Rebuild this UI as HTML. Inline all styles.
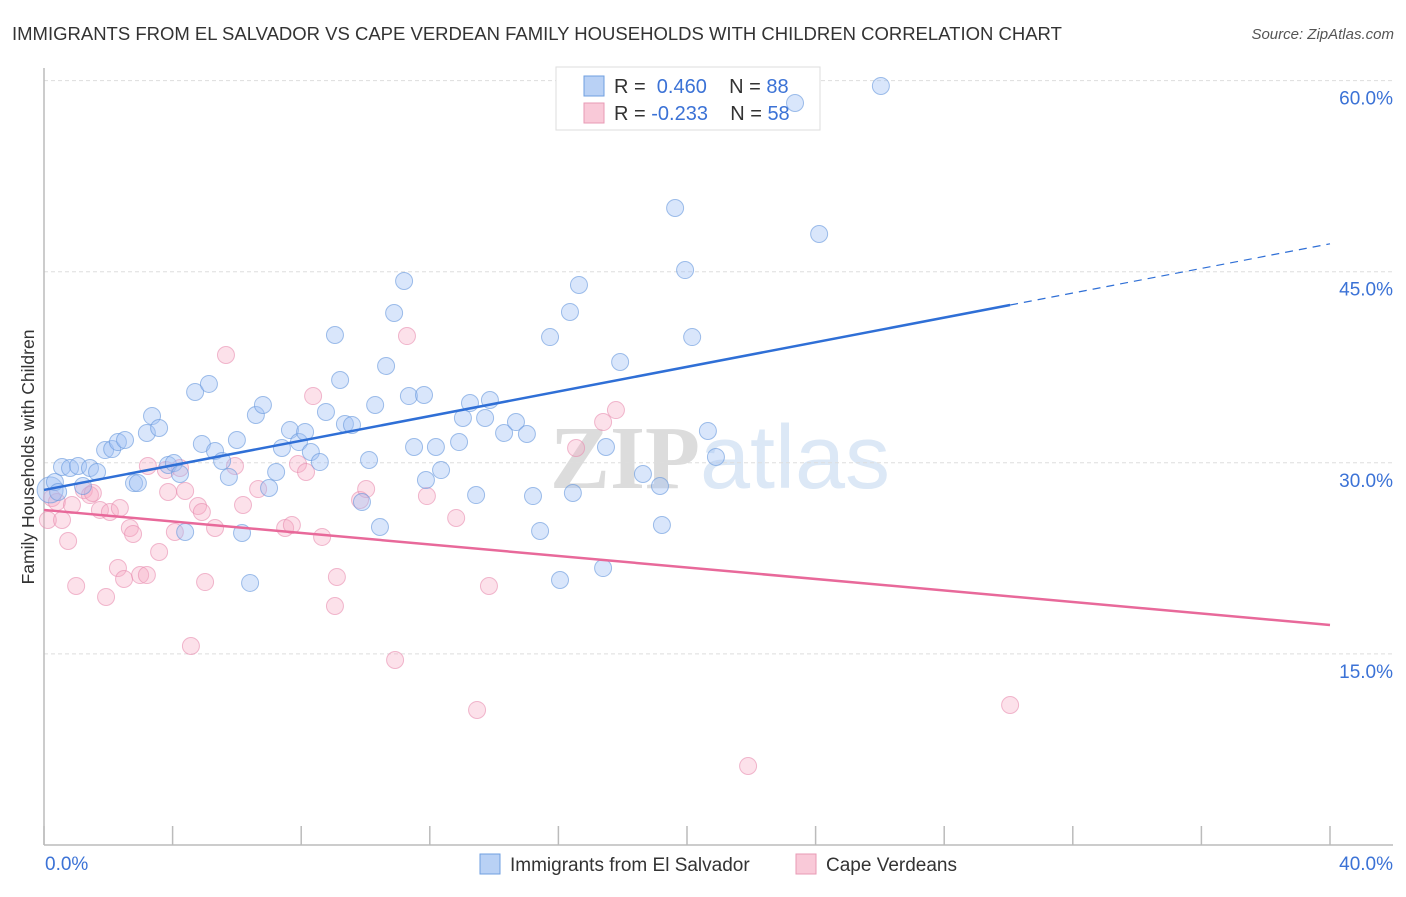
<!DOCTYPE html>
<html><head><meta charset="utf-8"><style>
body{margin:0;background:#fff;font-family:"Liberation Sans",sans-serif;}
svg text{font-family:"Liberation Sans",sans-serif;}
</style></head><body>
<svg width="1406" height="892" xmlns="http://www.w3.org/2000/svg">
<text x="12" y="40" font-size="18.5" fill="#333">IMMIGRANTS FROM EL SALVADOR VS CAPE VERDEAN FAMILY HOUSEHOLDS WITH CHILDREN CORRELATION CHART</text>
<text x="1394" y="39" font-size="15" fill="#555" text-anchor="end" font-style="italic">Source: ZipAtlas.com</text>
<text x="720" y="488" font-size="90" fill="#e3e3e3" text-anchor="middle" font-weight="bold"><tspan fill="#dcdcdc" font-family="Liberation Serif">ZIP</tspan><tspan fill="#dce8f6" font-weight="normal">atlas</tspan></text>
<g id="grid"></g>
<g id="axes"></g>
<g>
<rect x="556" y="67" width="264" height="63" fill="#fff" stroke="#ddd"/>
<rect x="584" y="76" width="20" height="20" fill="#b9d1f5" stroke="#6f9fe0"/>
<rect x="584" y="103" width="20" height="20" fill="#f9c9d8" stroke="#e89ab5"/>
<text x="614" y="93" font-size="20" fill="#333">R = <tspan fill="#3b72d6">&#160;0.460</tspan>&#160;&#160;&#160;&#160;N = <tspan fill="#3b72d6">88</tspan></text>
<text x="614" y="120" font-size="20" fill="#333">R = <tspan fill="#3b72d6">-0.233</tspan>&#160;&#160;&#160;&#160;N = <tspan fill="#3b72d6">58</tspan></text>
</g>
<g id="marks"></g>
<text transform="translate(34,457) rotate(-90)" font-size="17.5" fill="#333" text-anchor="middle">Family Households with Children</text>
<g>
<rect x="480" y="854" width="20" height="20" fill="#b9d1f5" stroke="#6f9fe0"/>
<text x="510" y="871" font-size="19" fill="#333">Immigrants from El Salvador</text>
<rect x="796" y="854" width="20" height="20" fill="#f9c9d8" stroke="#e89ab5"/>
<text x="826" y="871" font-size="19" fill="#333">Cape Verdeans</text>
</g>
</svg>
<script>
const yTicks=[15,30,45,60];
const yTickLabels=["15.0%","30.0%","45.0%","60.0%"];
const xTicks=[0,4,8,12,16,20,24,28,32,36,40];
const blueX=[0.19,0.34,0.44,0.56,0.81,1.06,1.21,1.43,1.65,1.90,2.12,2.30,2.52,2.80,2.92,3.20,3.36,3.58,3.86,4.04,4.23,4.39,4.70,4.91,5.13,5.32,5.54,5.75,6.00,6.16,6.41,6.59,6.81,7.00,7.22,7.40,7.65,7.93,8.12,8.30,8.58,8.77,9.05,9.21,9.36,9.58,9.89,10.11,10.30,10.45,10.64,10.89,11.20,11.35,11.51,11.82,11.88,12.19,12.35,12.91,13.03,13.25,13.44,13.72,13.87,14.31,14.68,15.02,15.21,15.43,15.74,16.05,16.36,16.45,16.64,17.39,17.48,17.92,18.63,19.16,19.22,19.63,19.94,20.16,20.65,20.90,23.36,24.11,26.03];
const blueY=[27.87,28.49,27.71,29.67,29.59,29.75,28.18,29.59,29.28,31.0,31.08,31.63,31.79,28.41,28.41,32.34,33.67,32.73,29.83,29.98,29.12,24.57,35.56,31.48,36.19,30.93,30.14,28.89,31.79,24.49,20.57,33.75,34.54,28.02,29.28,31.16,32.57,31.63,32.42,30.85,30.06,33.99,40.03,36.50,33.05,32.97,26.92,30.22,34.54,24.96,37.60,41.76,44.27,35.24,31.24,35.32,28.65,31.24,29.43,31.63,33.52,34.69,27.47,33.52,34.93,32.34,33.20,32.26,27.39,24.65,39.87,20.80,41.84,27.63,43.96,21.74,31.24,37.91,29.12,28.18,25.12,50.0,45.13,39.87,32.50,30.46,58.24,47.96,59.58];
const pinkX=[0.12,0.25,0.40,0.56,0.75,0.87,1.0,1.24,1.43,1.52,1.74,1.93,2.05,2.30,2.36,2.49,2.67,2.77,2.99,3.20,3.23,3.58,3.79,3.86,4.07,4.23,4.39,4.57,4.79,4.91,5.01,5.32,5.66,5.94,6.19,6.66,7.50,7.71,7.90,8.15,8.37,8.65,9.05,9.11,9.83,10.02,10.92,11.29,11.91,12.82,13.47,13.84,16.55,17.39,17.79,21.90,30.05];
const pinkY=[25.51,27.24,26.92,25.51,23.86,26.69,20.33,27.86,27.47,27.63,26.30,19.47,26.14,21.74,26.45,20.88,24.88,24.41,21.19,21.19,29.75,23.0,29.43,27.71,24.57,29.59,27.79,15.62,26.61,26.14,20.64,24.88,38.46,29.75,26.69,27.94,24.88,25.12,29.91,29.28,35.24,24.18,18.76,21.04,27.08,27.94,14.52,39.95,27.39,25.67,10.60,20.33,31.16,33.20,34.14,6.20,10.99];
const blueTrend=[27.87,0.483];
const pinkTrend=[26.3,-0.2258];
const bigIdx=0;
const X=v=>44+v*32.15, Y=v=>845-v*12.74;
const NS="http://www.w3.org/2000/svg";
function mk(tag,attrs,parent){const e=document.createElementNS(NS,tag);for(const k in attrs)e.setAttribute(k,attrs[k]);document.getElementById(parent).appendChild(e);return e;}
yTicks.forEach((t,i)=>{
 const l=mk('line',{x1:44,x2:1393,y1:Y(t),y2:Y(t),stroke:'#ddd','stroke-dasharray':'4,3'},'grid');
 
 
 const tx=mk('text',{x:1393,y:Y(t)+24,'font-size':19,fill:'#3b72d6','text-anchor':'end'},'grid');
 tx.textContent=yTickLabels[i];
 
 
});
const ax=mk('line',{x1:44,x2:44,y1:68,y2:845,stroke:'#bbb','stroke-width':1.5},'axes');


const bx=mk('line',{x1:44,x2:1393,y1:845,y2:845,stroke:'#bbb','stroke-width':1.5},'axes');


xTicks.forEach(t=>{
 const l=mk('line',{x1:X(t),x2:X(t),y1:826,y2:845,stroke:'#bbb','stroke-width':1.5},'axes');
 
 
});
const xl0=mk('text',{x:45,y:870,'font-size':19,fill:'#3b72d6'},'axes');xl0.textContent='0.0%';


const xl1=mk('text',{x:1393,y:870,'font-size':19,fill:'#3b72d6','text-anchor':'end'},'axes');xl1.textContent='40.0%';


pinkX.forEach((x,i)=>{
 const c=mk('circle',{cx:X(x),cy:Y(pinkY[i]),r:8.5,fill:'rgba(246,170,196,0.35)',stroke:'rgba(232,140,175,0.6)','stroke-width':1},'marks');
 
 
});
blueX.forEach((x,i)=>{
 const c=mk('circle',{cx:X(x),cy:Y(blueY[i]),r:i===bigIdx?13:8.5,fill:'rgba(160,192,244,0.4)',stroke:'rgba(100,150,220,0.6)','stroke-width':1},'marks');
 
 
});
const bt=v=>blueTrend[0]+blueTrend[1]*v, pt=v=>pinkTrend[0]+pinkTrend[1]*v;
const l1=mk('line',{x1:X(0),y1:Y(bt(0)),x2:X(30.05),y2:Y(bt(30.05)),stroke:'#2f6fd6','stroke-width':2.5},'marks');


const l2=mk('line',{x1:X(30.05),y1:Y(bt(30.05)),x2:X(40),y2:Y(bt(40)),stroke:'#2f6fd6','stroke-width':1.2,'stroke-dasharray':'8,6'},'marks');


const l3=mk('line',{x1:X(0),y1:Y(pt(0)),x2:X(40),y2:Y(pt(40)),stroke:'#e8699a','stroke-width':2.5},'marks');


</script>
</body></html>
